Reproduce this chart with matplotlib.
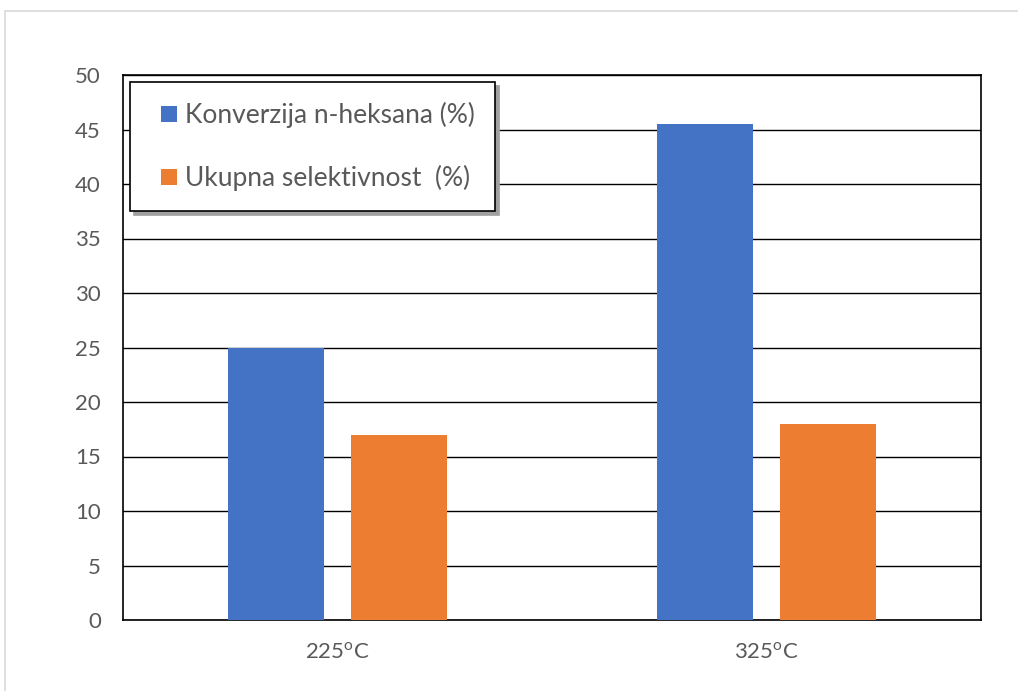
import matplotlib.pyplot as plt
from matplotlib.patches import Rectangle
from matplotlib.container import BarContainer
from matplotlib.legend_handler import HandlerPatch
import numpy as np

# data
kategorije = ['225$^\\mathregular{o}$C', '325$^\\mathregular{o}$C']
konverzija = [25, 45.5]
selektivnost = [17, 18]
oznake = ['Konverzija n-heksana (%)', 'Ukupna selektivnost  (%)']
boje = ['#4472C4', '#ED7D31']
siva = '#595959'

plt.rcParams['font.family'] = ['Lato', 'DejaVu Sans']


def kvadrat(legend, orig_handle, xdescent, ydescent, width, height, fontsize):
    # mali kvadrat uz desni rub mjesta za oznaku
    s = 0.62 * fontsize
    return Rectangle((-xdescent + width - s, -ydescent + (height - s) / 2), s, s)


def prva_boja(handle, orig):
    handle.update_from(orig.patches[0])


fig = plt.figure(figsize=(10.18, 6.91), dpi=100)
# okvir grafikona
fig.patches.append(Rectangle((5 / 1018, -0.05), 1.1, 1 - 11 / 691 + 0.05,
                             transform=fig.transFigure, fill=False,
                             edgecolor='#D9D9D9', linewidth=1.2))

ax = fig.add_axes([123 / 1018, 1 - 620 / 691, 858 / 1018, 545 / 691])

x = np.arange(len(kategorije))
w = 0.224
off = 0.143
ax.bar(x - off, konverzija, w, color=boje[0], label=oznake[0], zorder=3)
ax.bar(x + off, selektivnost, w, color=boje[1], label=oznake[1], zorder=3)

ax.set_xlim(-0.5, 1.5)
ax.set_ylim(0, 50)
ax.set_yticks(range(0, 51, 5))
ax.set_xticks(x)
ax.set_xticklabels(kategorije)
ax.grid(axis='y', color='black', linewidth=1, zorder=0)
ax.set_axisbelow(True)
for s in ax.spines.values():
    s.set_color('black')
    s.set_linewidth(1.2)
ax.tick_params(axis='both', length=0, colors=siva, labelsize=16)
ax.tick_params(axis='y', pad=16)
ax.tick_params(axis='x', pad=16)

leg = ax.legend(loc='upper left', bbox_to_anchor=(0.008, 0.987), frameon=True,
                fancybox=False, shadow={'color': '#A0A0A0', 'alpha': 1, 'ox': 3, 'oy': -3},
                edgecolor='black', fontsize=19, handlelength=1.05,
                handleheight=0.7, handletextpad=0.3, labelspacing=1.4,
                borderpad=0.75, borderaxespad=0,
                handler_map={BarContainer: HandlerPatch(patch_func=kvadrat,
                                                        update_func=prva_boja)})
leg.get_frame().set_linewidth(1.2)
for t in leg.get_texts():
    t.set_color(siva)

fig.savefig('out.png', dpi=100)
